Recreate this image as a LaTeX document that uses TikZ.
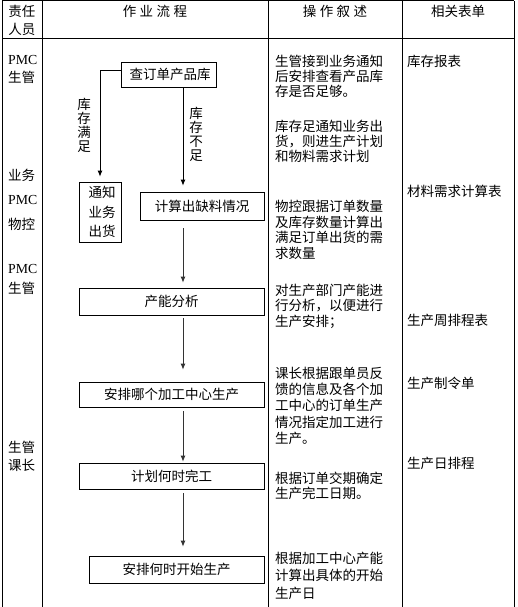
\documentclass[tikz,border=0pt]{standalone}
\usepackage{fontspec}
\setmainfont{Liberation Serif}
\newfontfamily\cjk{Noto Sans CJK SC}
\usetikzlibrary{arrows.meta}
\begin{document}
\begin{tikzpicture}[x=1pt,y=-1pt,
  tline/.style={line width=1pt},
  box/.style={draw, line width=0.8pt, inner sep=0pt, font=\cjk\fontsize{13.5}{15}\selectfont},
  lbl/.style={inner sep=0pt, anchor=west, font=\cjk\fontsize{13.5}{15}\selectfont, text height=11.9pt, text depth=1.6pt},
  lat/.style={inner sep=0pt, anchor=west, font=\fontsize{13.8}{15}\selectfont, text height=9.1pt, text depth=0pt},
  hd/.style={inner sep=0pt, font=\cjk\fontsize{13.5}{15}\selectfont, text height=11.9pt, text depth=1.6pt},
  vlab/.style={inner sep=0pt, align=center, font=\cjk\fontsize{13.5}{14}\selectfont},
  arr/.style={line width=0.8pt, -{Latex[length=6pt,width=5pt]}},
  flow/.style={arr, draw=black!80, fill=black!80}
]
\useasboundingbox (0,0) rectangle (518,607);

% table
\draw[tline] (2,1) -- (514,1);
\draw[tline] (2,39) -- (514,39);
\foreach \x in {2,42,268,402,514} \draw[tline] (\x,1) -- (\x,607);

% header
\node[hd] (h1a) at (22,11) {责任};
\node[hd] (h1b) at (22,29) {人员};
\node[hd] (h2) at (155,11) {作\hspace{3.5pt}业\hspace{3.5pt}流\hspace{3.5pt}程};
\node[hd] (h3) at (335,11) {操\hspace{3.5pt}作\hspace{3.5pt}叙\hspace{3.5pt}述};
\node[hd] (h4) at (458,11) {相关表单};

% responsible column
\node[lat] (r1) at (8,60) {PMC};
\node[lbl] (r2) at (8,77) {生管};
\node[lbl] (r3) at (8,175) {业务};
\node[lat] (r4) at (8,200) {PMC};
\node[lbl] (r5) at (8,224) {物控};
\node[lat] (r6) at (8,269) {PMC};
\node[lbl] (r7) at (8,288) {生管};
\node[lbl] (r8) at (8,447) {生管};
\node[lbl] (r9) at (8,465) {课长};

% description column
\foreach \t [count=\i] in {生管接到业务通知,后安排查看产品库,存是否足够。}
  \node[lbl] (da\i) at (275,{61.5+15*(\i-1)}) {\t};
\foreach \t [count=\i] in {库存足通知业务出,货，则进生产计划,和物料需求计划}
  \node[lbl] (db\i) at (275,{126.5+15*(\i-1)}) {\t};
\foreach \t [count=\i] in {物控跟据订单数量,及库存数量计算出,满足订单出货的需,求数量}
  \node[lbl] (dc\i) at (275,{206.5+15.5*(\i-1)}) {\t};
\foreach \t [count=\i] in {对生产部门产能进,行分析，以便进行,生产安排；}
  \node[lbl] (dd\i) at (275,{290+15.5*(\i-1)}) {\t};
\foreach \t [count=\i] in {课长根据跟单员反,馈的信息及各个加,工中心的订单生产,情况指定加工进行,生产。}
  \node[lbl] (de\i) at (275,{373+16.3*(\i-1)}) {\t};
\foreach \t [count=\i] in {根据订单交期确定,生产完工日期。}
  \node[lbl] (df\i) at (275,{478+15.2*(\i-1)}) {\t};
\foreach \t [count=\i] in {根据加工中心产能,计算出具体的开始,生产日}
  \node[lbl] (dg\i) at (275,{558+17.5*(\i-1)}) {\t};

% forms column
\node[lbl] (f1) at (407,61.5) {库存报表};
\node[lbl] (f2) at (407,191.5) {材料需求计算表};
\node[lbl] (f3) at (407,320) {生产周排程表};
\node[lbl] (f4) at (407,383) {生产制令单};
\node[lbl] (f5) at (407,463) {生产日排程};

% flow boxes
\node[box, minimum width=95pt, minimum height=25pt] (q) at (168.5,74.5) {\hspace{3pt}查订单产品库};
\node[box, minimum width=42pt, minimum height=60pt, align=center, font=\cjk\fontsize{13.5}{19.5}\selectfont] (n) at (100,212) {\hspace{4pt}通知\\\hspace{4pt}业务\\\hspace{4pt}出货};
\node[box, minimum width=124pt, minimum height=28pt] (c) at (202,206) {计算出缺料情况};
\node[box, minimum width=185pt, minimum height=27pt] (p) at (171.5,301.5) {产能分析};
\node[box, minimum width=185pt, minimum height=25pt] (a) at (171.5,394.5) {安排哪个加工中心生产};
\node[box, minimum width=185pt, minimum height=26pt] (t) at (171.5,476) {计划何时完工};
\node[box, minimum width=175pt, minimum height=27pt] (s) at (176.5,569.5) {安排何时开始生产};

% branch labels
\node[vlab] (l1) at (84,125) {库\\存\\满\\足};
\node[vlab] (l2) at (196,134) {库\\存\\不\\足};

% connectors
\coordinate (xa) at (183,0);
\draw[arr, shorten >=5pt] ([yshift=4pt]q.west) -| (n.north);
\draw[arr, shorten >=6pt] (q.south -| xa) -- (c.north -| xa);
\draw[flow, shorten <=8pt, shorten >=5pt] (c.south -| xa) -- (p.north -| xa);
\draw[flow, shorten <=3pt, shorten >=12pt] (p.south -| xa) -- (a.north -| xa);
\draw[flow, shorten <=4pt, shorten >=1pt] (a.south -| xa) -- (t.north -| xa);
\draw[flow, shorten <=4pt, shorten >=9pt] (t.south -| xa) -- (s.north -| xa);
\end{tikzpicture}
\end{document}
